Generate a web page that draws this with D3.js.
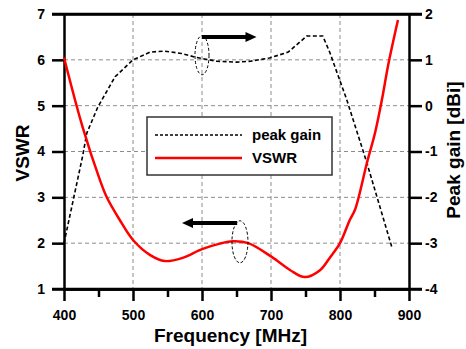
<!DOCTYPE html>
<html>
<head>
<meta charset="utf-8">
<script src="https://cdn.jsdelivr.net/npm/d3@7"></script>
<style>
  body { margin: 0; background: #fff; }
  svg { display: block; font-family: Arial, 'Liberation Sans', sans-serif; font-weight: bold; }
</style>
</head>
<body>
<div id="chart"></div>
<script>
// values
var freqTicks = [400, 500, 600, 700, 800, 900]
var freqMinorTicks = [450, 550, 650, 750, 850]
var vswrTicks = [1, 2, 3, 4, 5, 6, 7]
var gainTicks = [-4, -3, -2, -1, 0, 1, 2]

// peak gain [dBi] (dashed black, right axis)
var gainFreq = [400, 427, 433, 449, 474, 500, 525, 546, 570, 590, 621, 650, 670, 698, 725, 752, 775, 785, 810, 839, 875]
var gainVals = [-3.0, -1.1, -0.6, -0.03, 0.63, 1.0, 1.17, 1.19, 1.14, 1.06, 0.97, 0.95, 0.97, 1.04, 1.17, 1.52, 1.52, 1.17, 0.12, -1.25, -3.08]

// VSWR (red, left axis)
var vswrFreq = [400, 427, 452, 462, 481, 500, 525, 546, 572, 600, 626, 645, 667, 701, 728, 749, 771, 786, 800, 814, 822, 839, 851, 861, 870, 884]
var vswrVals = [6.05, 4.53, 3.38, 3.0, 2.5, 2.07, 1.74, 1.61, 1.68, 1.87, 1.99, 2.04, 2.0, 1.70, 1.41, 1.26, 1.41, 1.70, 2.0, 2.5, 2.74, 3.75, 4.42, 5.15, 5.9, 6.87]

var legendNames = ['peak gain', 'VSWR']

// layout
var chart = { width: 466, height: 349 }
chart.margin = { left: 64, right: 57, top: 14, bottom: 60 }
chart.w = chart.width - chart.margin.left - chart.margin.right
chart.h = chart.height - chart.margin.top - chart.margin.bottom

var x = d3.scaleLinear().domain([400, 900]).range([0, chart.w])
var yL = d3.scaleLinear().domain([1, 7]).range([chart.h, 0])
var yR = d3.scaleLinear().domain([-4, 2]).range([chart.h, 0])

var svg = d3.select('#chart').append('svg')
  .attr('width', chart.width)
  .attr('height', chart.height)

var g = svg.append('g')
  .attr('transform', 'translate(' + chart.margin.left + ',' + chart.margin.top + ')')

// dashed grid
g.append('g').selectAll('line')
  .data(freqTicks.slice(1, -1))
  .enter().append('line')
  .attr('x1', function (d) { return x(d) })
  .attr('x2', function (d) { return x(d) })
  .attr('y1', 0).attr('y2', chart.h)
  .attr('stroke', '#8c8c8c').attr('stroke-width', 1).attr('stroke-dasharray', '4,3')
g.append('g').selectAll('line')
  .data(vswrTicks.slice(1, -1))
  .enter().append('line')
  .attr('y1', function (d) { return yL(d) })
  .attr('y2', function (d) { return yL(d) })
  .attr('x1', 0).attr('x2', chart.w)
  .attr('stroke', '#8c8c8c').attr('stroke-width', 1).attr('stroke-dasharray', '4,3')

// axes
var intFmt = d3.format('d')
var axisLeft = d3.axisLeft(yL).tickValues(vswrTicks).tickFormat(intFmt).tickSize(12).tickSizeOuter(0).tickPadding(7)
var axisRight = d3.axisRight(yR).tickValues(gainTicks).tickFormat(function (d) { return d < 0 ? '-' + Math.abs(d) : d }).tickSize(13).tickSizeOuter(0).tickPadding(3)
var axisBottom = d3.axisBottom(x).tickValues(freqTicks).tickFormat(intFmt).tickSize(12).tickSizeOuter(0).tickPadding(9)
var axisBottomMinor = d3.axisBottom(x).tickValues(freqMinorTicks).tickSize(8).tickSizeOuter(0).tickFormat('')
var axisTop = d3.axisTop(x).tickValues([]).tickSizeOuter(0)

function styleAxis (sel) {
  sel.selectAll('path, line').attr('stroke', '#000').attr('stroke-width', 2.5)
  sel.selectAll('text').attr('fill', '#000').attr('font-size', 14).attr('font-weight', 'bold')
}

g.append('g').attr('transform', 'translate(0,' + chart.h + ')').call(axisBottomMinor).call(styleAxis)
g.append('g').attr('transform', 'translate(0,' + chart.h + ')').call(axisBottom).call(styleAxis)
g.append('g').call(axisTop).call(styleAxis)
g.append('g').call(axisLeft).call(styleAxis)
g.append('g').attr('transform', 'translate(' + chart.w + ',0)').call(axisRight).call(styleAxis)

// top and bottom frame lines reach out to the tick ends
g.append('line').attr('x1', -12).attr('x2', chart.w + 13).attr('y1', 0).attr('y2', 0)
  .attr('stroke', '#000').attr('stroke-width', 2.5)
g.append('line').attr('x1', -12).attr('x2', chart.w + 13).attr('y1', chart.h).attr('y2', chart.h)
  .attr('stroke', '#000').attr('stroke-width', 2.5)

// curves
var gainData = gainFreq.map(function (f, i) { return [f, gainVals[i]] })
var vswrData = vswrFreq.map(function (f, i) { return [f, vswrVals[i]] })

g.append('path')
  .datum(gainData)
  .attr('fill', 'none')
  .attr('stroke', '#000')
  .attr('stroke-width', 1.6)
  .attr('stroke-dasharray', '4,2.5')
  .attr('d', d3.line()
    .x(function (d) { return x(d[0]) })
    .y(function (d) { return yR(d[1]) }))

g.append('path')
  .datum(vswrData)
  .attr('fill', 'none')
  .attr('stroke', '#ff0000')
  .attr('stroke-width', 2.5)
  .attr('d', d3.line()
    .curve(d3.curveCatmullRom.alpha(0.5))
    .x(function (d) { return x(d[0]) })
    .y(function (d) { return yL(d[1]) }))

// annotations: ellipses and arrows
function arrow (x1, x2, yv) {
  var px1 = x(x1), px2 = x(x2), py = yL(yv)
  var dir = px2 > px1 ? 1 : -1
  g.append('line')
    .attr('x1', px1).attr('x2', px2 - dir * 8)
    .attr('y1', py).attr('y2', py)
    .attr('stroke', '#000').attr('stroke-width', 4)
  g.append('path')
    .attr('d', 'M' + px2 + ',' + py + 'L' + (px2 - dir * 11) + ',' + (py - 5) + 'L' + (px2 - dir * 11) + ',' + (py + 5) + 'Z')
    .attr('fill', '#000')
}
function ring (fx, vy, rx, ry) {
  g.append('ellipse')
    .attr('cx', x(fx)).attr('cy', yL(vy))
    .attr('rx', rx).attr('ry', ry)
    .attr('fill', 'none').attr('stroke', '#000').attr('stroke-width', 1)
    .attr('stroke-dasharray', '3,2')
}
ring(600, 6.1, 7, 19.5)
arrow(600, 679, 6.5)
ring(655, 2.03, 8, 21)
arrow(651, 571, 2.44)

// legend
var legend = g.append('g').attr('transform', 'translate(' + (147 - chart.margin.left) + ',' + (117 - chart.margin.top) + ')')
legend.append('rect')
  .attr('width', 185).attr('height', 58)
  .attr('fill', '#fff').attr('stroke', '#333').attr('stroke-width', 1.5)
legend.selectAll('line')
  .data(legendNames)
  .enter().append('line')
  .attr('x1', 8).attr('x2', 95)
  .attr('y1', function (d, i) { return 18 + i * 23 })
  .attr('y2', function (d, i) { return 18 + i * 23 })
  .attr('stroke', function (d, i) { return i === 0 ? '#000' : '#ff0000' })
  .attr('stroke-width', function (d, i) { return i === 0 ? 1.6 : 2.5 })
  .attr('stroke-dasharray', function (d, i) { return i === 0 ? '3,2' : null })
legend.selectAll('text')
  .data(legendNames)
  .enter().append('text')
  .attr('x', 105)
  .attr('y', function (d, i) { return 23 + i * 23 })
  .attr('font-size', 15)
  .attr('font-weight', 'bold')
  .text(function (d) { return d })

// axis titles
svg.append('text')
  .attr('x', chart.margin.left + chart.w / 2 - 6)
  .attr('y', 342)
  .attr('text-anchor', 'middle')
  .attr('font-size', 19)
  .text('Frequency [MHz]')
svg.append('text')
  .attr('transform', 'translate(29,153) rotate(-90)')
  .attr('text-anchor', 'middle')
  .attr('font-size', 19)
  .text('VSWR')
svg.append('text')
  .attr('transform', 'translate(460,150) rotate(-90)')
  .attr('text-anchor', 'middle')
  .attr('font-size', 19)
  .text('Peak gain [dBi]')
</script>
</body>
</html>
